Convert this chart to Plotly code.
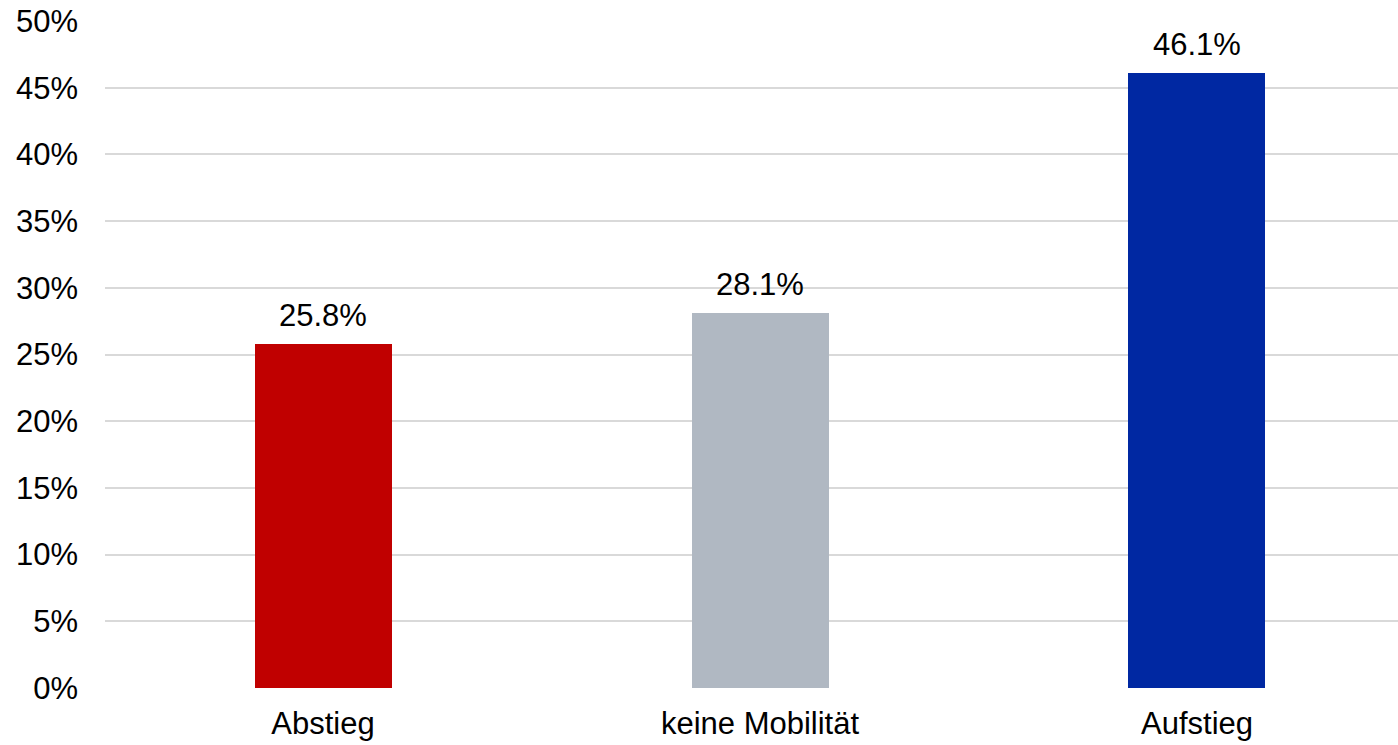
import plotly.graph_objects as go

categories = ["Abstieg", "keine Mobilität", "Aufstieg"]
shares = [25.8, 28.1, 46.1]
bar_colors = ["#C00000", "#B0B8C2", "#0028A2"]
tick_values = [0, 5, 10, 15, 20, 25, 30, 35, 40, 45, 50]
tick_labels = [f"{v}%" for v in tick_values]

FONT = "Liberation Sans, Arial, sans-serif"
FSIZE = 31

fig = go.Figure()
fig.add_trace(go.Bar(
    x=list(range(len(categories))),
    y=shares,
    marker=dict(color=bar_colors, line=dict(width=0)),
    width=0.3135,
    hoverinfo="skip",
))

for i, v in enumerate(shares):
    fig.add_annotation(
        x=i, y=v, text=f"{v:.1f}%", showarrow=False,
        yanchor="bottom", yshift=9,
        font=dict(family=FONT, size=FSIZE, color="#000000"),
    )

fig.update_layout(
    width=1398, height=745,
    margin=dict(l=105, r=0, t=21, b=57),
    paper_bgcolor="white", plot_bgcolor="white",
    showlegend=False,
    font=dict(family=FONT, size=FSIZE, color="#000000"),
    bargap=0,
)
fig.update_xaxes(
    range=[-0.4989, 2.46],
    tickmode="array",
    tickvals=list(range(len(categories))),
    ticktext=categories,
    showgrid=False, zeroline=False, showline=False,
    ticks="", ticklabelstandoff=14,
    tickfont=dict(family=FONT, size=FSIZE, color="#000000"),
)
fig.update_yaxes(
    range=[0, 50],
    tickmode="array",
    tickvals=tick_values,
    ticktext=tick_labels,
    showgrid=True, gridcolor="#D9D9D9", gridwidth=2,
    zeroline=False, showline=False,
    ticks="", ticklabelstandoff=26,
    tickfont=dict(family=FONT, size=FSIZE, color="#000000"),
)

fig.write_html("out.html")
